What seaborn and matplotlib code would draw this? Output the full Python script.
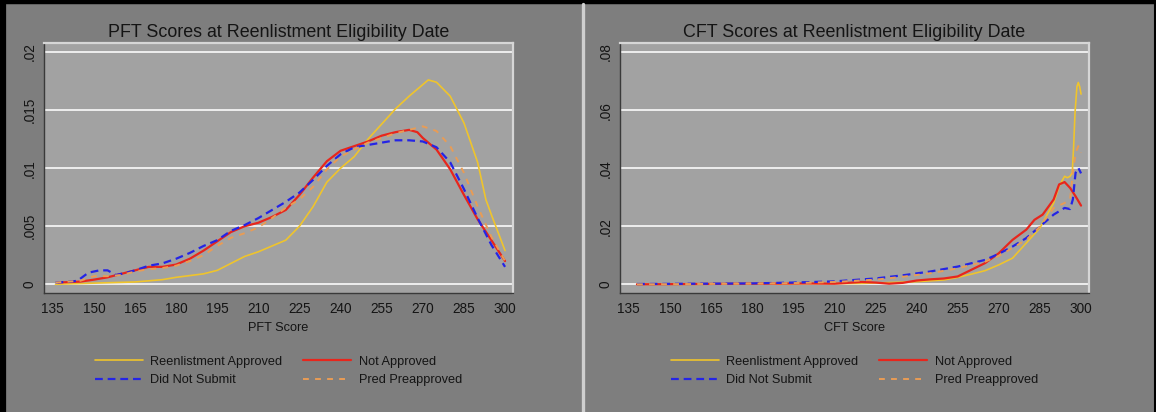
import matplotlib
matplotlib.use("Agg")
import matplotlib.pyplot as plt
from matplotlib.lines import Line2D
import pandas as pd
import seaborn as sns

# ---------------- data ----------------
labels = ["Reenlistment Approved", "Not Approved", "Did Not Submit", "Pred Preapproved"]

# PFT score densities
pft_approved_x = [136, 150, 165, 175, 180, 190, 195, 200, 205, 210, 215, 220, 225, 230, 235,
                  240, 245, 250, 255, 260, 265, 270, 272, 275, 280, 285, 290, 293, 295, 300]
pft_approved_y = [0.0000, 0.0001, 0.0002, 0.0004, 0.0006, 0.0009, 0.0012, 0.0018, 0.0024, 0.0028,
                  0.0033, 0.0038, 0.0050, 0.0067, 0.0088, 0.0100, 0.0110, 0.0125, 0.0138, 0.0151,
                  0.0162, 0.0172, 0.0176, 0.0174, 0.0162, 0.0139, 0.0105, 0.0073, 0.0060, 0.0029]

pft_notapp_x = [137, 145, 150, 155, 160, 165, 170, 175, 180, 185, 190, 195, 200, 205, 210, 215, 220,
                225, 230, 235, 240, 245, 250, 255, 260, 265, 268, 270, 275, 280, 285, 290, 295, 300]
pft_notapp_y = [0.00015, 0.00023, 0.0004, 0.0006, 0.0009, 0.0012, 0.0015, 0.0015, 0.0017, 0.0022,
                0.0029, 0.0037, 0.0045, 0.0050, 0.0053, 0.0058, 0.0064, 0.0077, 0.0092, 0.0106,
                0.0115, 0.0119, 0.0123, 0.0128, 0.0131, 0.0133, 0.0131, 0.0126, 0.0116, 0.0099,
                0.0077, 0.0056, 0.0038, 0.0020]

pft_nosub_x = [136, 140, 144, 148, 152, 155, 158, 162, 165, 170, 175, 180, 185, 190, 195, 200, 205,
               210, 215, 220, 225, 230, 235, 240, 245, 250, 255, 260, 265, 270, 275, 280, 285,
               290, 295, 300]
pft_nosub_y = [0.00015, 0.0002, 0.0003, 0.0010, 0.0012, 0.0012, 0.0008, 0.0010, 0.0012, 0.0016,
               0.0018, 0.0022, 0.0027, 0.0033, 0.0038, 0.0046, 0.0051, 0.0057, 0.0064, 0.0071,
               0.0079, 0.0090, 0.0102, 0.0112, 0.0118, 0.0120, 0.0122, 0.0124, 0.0124, 0.0123,
               0.0118, 0.0105, 0.0082, 0.0057, 0.0034, 0.0015]

pft_pred_x = [136, 145, 150, 155, 160, 165, 170, 175, 180, 185, 190, 195, 200, 205, 210, 215, 220,
              225, 230, 235, 240, 245, 250, 255, 260, 265, 270, 275, 280, 285, 290, 295, 300]
pft_pred_y = [0.00015, 0.0003, 0.0007, 0.0007, 0.0008, 0.0011, 0.0013, 0.0014, 0.0016, 0.0020,
              0.0025, 0.0033, 0.0040, 0.0044, 0.0049, 0.0057, 0.0066, 0.0073, 0.0084, 0.0099,
              0.0110, 0.0116, 0.0122, 0.0126, 0.0130, 0.0133, 0.0136, 0.0132, 0.0119, 0.0096,
              0.0067, 0.0041, 0.0020]

# CFT score densities
cft_approved_x = [138, 160, 180, 200, 220, 230, 240, 250, 255, 260, 265, 270, 275, 280, 285, 288,
                  290, 292, 294, 295, 296, 296.8, 297.3, 297.8, 298.5, 299, 299.5, 300]
cft_approved_y = [0.0000, 0.0000, 0.0001, 0.0002, 0.0003, 0.0006, 0.0009, 0.0015, 0.0024, 0.0035,
                  0.0047, 0.0067, 0.0090, 0.0142, 0.0194, 0.0246, 0.0280, 0.0338, 0.0372, 0.0367,
                  0.0372, 0.0384, 0.0476, 0.0591, 0.0681, 0.0695, 0.0680, 0.0655]

cft_notapp_x = [138, 160, 180, 200, 210, 220, 225, 230, 235, 240, 245, 250, 255, 260, 265, 270, 275,
                280, 283, 286, 290, 292, 294, 296, 298, 300]
cft_notapp_y = [0.0000, 0.0001, 0.0002, 0.0003, 0.0002, 0.0008, 0.0006, 0.0002, 0.0005, 0.0013,
                0.0017, 0.0020, 0.0027, 0.0050, 0.0073, 0.0107, 0.0153, 0.0188, 0.0222, 0.0240,
                0.0292, 0.0344, 0.0352, 0.0332, 0.0303, 0.0271]

cft_nosub_x = [138, 160, 180, 195, 210, 225, 235, 245, 255, 265, 270, 275, 280, 285, 290, 294, 296,
               297, 298, 299, 300]
cft_nosub_y = [0.0001, 0.0002, 0.0003, 0.0006, 0.0010, 0.0020, 0.0031, 0.0044, 0.0061, 0.0084,
               0.0105, 0.0130, 0.0159, 0.0199, 0.0240, 0.0263, 0.0259, 0.0292, 0.0384, 0.0401,
               0.0382]

cft_pred_x = [138, 160, 180, 195, 210, 225, 235, 245, 255, 265, 270, 280, 285, 290, 294, 296, 297,
              298, 299, 300]
cft_pred_y = [0.0000, 0.0001, 0.0002, 0.0004, 0.0008, 0.0016, 0.0026, 0.0038, 0.0055, 0.0078,
              0.0098, 0.0153, 0.0199, 0.0263, 0.0280, 0.0292, 0.0384, 0.0453, 0.0476, 0.0453]

x_ticks = [135, 150, 165, 180, 195, 210, 225, 240, 255, 270, 285, 300]
pft_yticks = [0, 0.005, 0.01, 0.015, 0.02]
pft_yticklabels = ["0", ".005", ".01", ".015", ".02"]
cft_yticks = [0, 0.02, 0.04, 0.06, 0.08]
cft_yticklabels = ["0", ".02", ".04", ".06", ".08"]

# ---------------- style ----------------
sns.set_style("white")
plt.rcParams["font.family"] = ["Liberation Sans", "DejaVu Sans"]

OUTER = "#7e7e7e"
INNER = "#a2a2a2"
GRID = "#eeeeee"
TXT = "#141414"

styles = {
    "Reenlistment Approved": dict(color="#efc42c", lw=1.2, ls="-"),
    "Not Approved": dict(color="#e8261c", lw=1.6, ls="-"),
    "Did Not Submit": dict(color="#2424e6", lw=1.6, ls=(0, (3.5, 2.2))),
    "Pred Preapproved": dict(color="#e99c55", lw=1.4, ls=(0, (3.0, 3.2))),
}

W, H = 1156, 412
fig = plt.figure(figsize=(W / 100, H / 100), dpi=100, facecolor=OUTER)


def px_rect(x0, y0, x1, y1):
    return [x0 / W, 1 - y1 / H, (x1 - x0) / W, (y1 - y0) / H]


panels = [
    dict(rect=px_rect(44, 43, 513, 293), title="PFT Scores at Reenlistment Eligibility Date",
         xlabel="PFT Score", ylim=(-0.00075, 0.02078), yticks=pft_yticks,
         yticklabels=pft_yticklabels,
         series=[(pft_approved_x, pft_approved_y), (pft_notapp_x, pft_notapp_y),
                 (pft_nosub_x, pft_nosub_y), (pft_pred_x, pft_pred_y)]),
    dict(rect=px_rect(620, 43, 1089, 293), title="CFT Scores at Reenlistment Eligibility Date",
         xlabel="CFT Score", ylim=(-0.003, 0.0831), yticks=cft_yticks,
         yticklabels=cft_yticklabels,
         series=[(cft_approved_x, cft_approved_y), (cft_notapp_x, cft_notapp_y),
                 (cft_nosub_x, cft_nosub_y), (cft_pred_x, cft_pred_y)]),
]

for p in panels:
    ax = fig.add_axes(p["rect"])
    ax.set_facecolor(INNER)
    for name, (xs, ys) in zip(labels, p["series"]):
        st = styles[name]
        df = pd.DataFrame({"score": xs, "density": ys})
        sns.lineplot(data=df, x="score", y="density", ax=ax, color=st["color"],
                     linewidth=st["lw"], linestyle=st["ls"], label=name, zorder=3)
    ax.set_xlim(131.8, 302.9)
    ax.set_ylim(*p["ylim"])
    ax.set_xticks(x_ticks)
    ax.set_yticks(p["yticks"])
    ax.set_yticklabels(p["yticklabels"], rotation=90, va="center")
    ax.grid(axis="y", color=GRID, lw=1.4, zorder=1)
    ax.grid(axis="x", visible=False)
    ax.tick_params(axis="both", direction="out", length=3.6, width=0.9, color="#303030",
                   labelsize=9.8, labelcolor=TXT, pad=3)
    ax.tick_params(axis="y", pad=1.5)
    for side in ("left", "bottom"):
        ax.spines[side].set_color("#3a3a3a")
        ax.spines[side].set_linewidth(1.0)
    for side in ("top", "right"):
        ax.spines[side].set_color("#d6d6d6")
        ax.spines[side].set_linewidth(1.6)
    ax.set_title(p["title"], fontsize=12.9, color=TXT, pad=4)
    ax.set_xlabel(p["xlabel"], fontsize=9.2, color=TXT, labelpad=4)
    ax.set_ylabel("")

    handles, labs = ax.get_legend_handles_labels()
    order = [0, 2, 1, 3]
    leg = ax.legend([handles[i] for i in order], [labs[i] for i in order], ncol=2,
                    loc="center", bbox_to_anchor=(0.5, -0.312), frameon=False,
                    fontsize=9.2, handlelength=3.75, handletextpad=0.6, columnspacing=1.65,
                    labelspacing=0.5)
    for t in leg.get_texts():
        t.set_color(TXT)

# outer frame and panel divider
fig.add_artist(Line2D([3 / W, 3 / W], [0, 1], color="black", lw=4.5))
fig.add_artist(Line2D([0, 1], [1 - 2 / H, 1 - 2 / H], color="black", lw=3.2))
fig.add_artist(Line2D([1 - 1 / W, 1 - 1 / W], [0, 1], color="black", lw=1.5))
fig.add_artist(Line2D([583 / W, 583 / W], [0, 1 - 4 / H], color="#cfcfcf", lw=2.4))

fig.savefig("out.png", dpi=100, facecolor=OUTER)
